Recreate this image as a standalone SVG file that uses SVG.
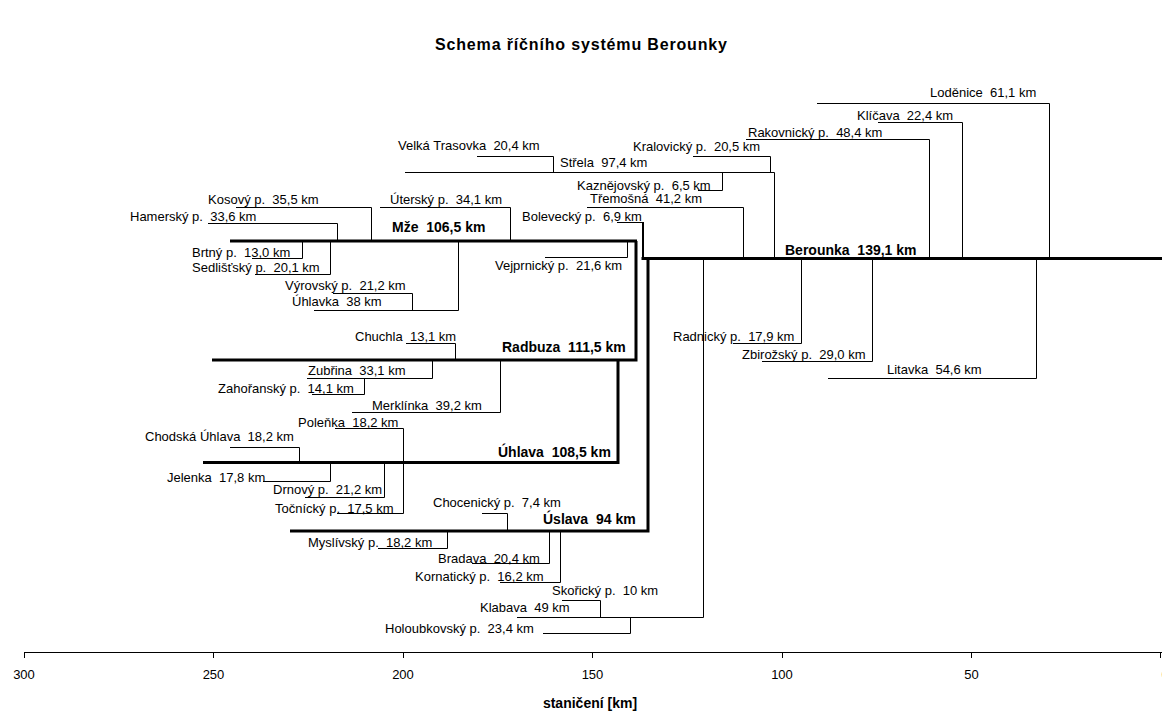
<svg xmlns="http://www.w3.org/2000/svg" width="1162" height="712" viewBox="0 0 1162 712" xml:space="preserve">
<style>
text{font-family:"Liberation Sans",Arial,sans-serif;font-size:13px;fill:#000;white-space:pre}
.b{font-weight:bold;font-size:14px}
.ttl{font-weight:bold;font-size:16px}
.ax{text-anchor:middle}
.thin{fill:none;stroke:#000;stroke-width:1}
.thick{fill:none;stroke:#000;stroke-width:3}
.mid{fill:none;stroke:#000;stroke-width:2}
</style>
<rect width="1162" height="712" fill="#fff"/>
<text class="ttl" x="581" y="50" text-anchor="middle" textLength="292" lengthAdjust="spacing">Schema říčního systému Berounky</text>

<g id="connectors">
  <!-- main rivers -->
  <polyline class="thick" points="230,241 637,241"/>
  <polyline class="thick" points="212,360 636,360 636,241"/>
  <polyline class="thick" points="203,462.5 618,462.5 618,360"/>
  <polyline class="thick" points="290,531 648,531 648,258.5"/>
  <polyline class="thick" points="641.5,258.5 1162,258.5"/>
  <!-- Berounka upper tributaries -->
  <polyline class="thin" points="817,103.5 1049.5,103.5 1049.5,258"/>
  <polyline class="thin" points="878,122.5 962.5,122.5 962.5,258"/>
  <polyline class="thin" points="746,139.5 929.5,139.5 929.5,258"/>
  <polyline class="thin" points="693,156.5 770.5,156.5 770.5,172.5"/>
  <polyline class="thin" points="477,156.5 553.5,156.5 553.5,172.5"/>
  <polyline class="thin" points="405,172.5 774.5,172.5 774.5,258"/>
  <polyline class="thin" points="698,190.5 722.5,190.5 722.5,172.5"/>
  <polyline class="thin" points="587,207.5 743.5,207.5 743.5,258"/>
  <polyline class="thin" points="617,222.5 643,222.5"/>
  <line class="mid" x1="643" y1="222" x2="643" y2="259"/>
  <!-- Mže tributaries -->
  <polyline class="thin" points="380,207.5 510.5,207.5 510.5,241"/>
  <polyline class="thin" points="236,207.5 371.5,207.5 371.5,241"/>
  <polyline class="thin" points="208,223.5 337.5,223.5 337.5,241"/>
  <polyline class="thin" points="252,258.5 302.5,258.5 302.5,241"/>
  <polyline class="thin" points="255,274.5 330.5,274.5 330.5,241"/>
  <polyline class="thin" points="333,293.5 412.5,293.5 412.5,310.5"/>
  <polyline class="thin" points="314,310.5 458.5,310.5 458.5,241"/>
  <polyline class="thin" points="545,257.5 627.5,257.5 627.5,241"/>
  <!-- Radbuza tributaries -->
  <polyline class="thin" points="406,343.5 455.5,343.5 455.5,360"/>
  <polyline class="thin" points="307,378.5 432.5,378.5 432.5,360"/>
  <polyline class="thin" points="312,394.5 364.5,394.5 364.5,378.5"/>
  <polyline class="thin" points="352,412.5 500.5,412.5 500.5,360"/>
  <!-- Úhlava tributaries -->
  <polyline class="thin" points="335,428.5 403.5,428.5 403.5,462"/>
  <polyline class="thin" points="230,447.5 299.5,447.5 299.5,462"/>
  <polyline class="thin" points="263,481.5 330.5,481.5 330.5,462"/>
  <polyline class="thin" points="305,497.5 384.5,497.5 384.5,462"/>
  <polyline class="thin" points="337,513.5 403.5,513.5 403.5,462"/>
  <!-- Úslava tributaries -->
  <polyline class="thin" points="482,513.5 507.5,513.5 507.5,531"/>
  <polyline class="thin" points="378,548.5 447.5,548.5 447.5,531"/>
  <polyline class="thin" points="472,563.5 549.5,563.5 549.5,531"/>
  <polyline class="thin" points="500,582.5 560.5,582.5 560.5,531"/>
  <!-- Klabava system -->
  <polyline class="thin" points="562,600.5 600.5,600.5 600.5,617.5"/>
  <polyline class="thin" points="517,617.5 703.5,617.5 703.5,259"/>
  <polyline class="thin" points="543,633.5 630.5,633.5 630.5,617.5"/>
  <!-- Berounka lower tributaries -->
  <polyline class="thin" points="733,343.5 801.5,343.5 801.5,259"/>
  <polyline class="thin" points="762,361.5 872.5,361.5 872.5,259"/>
  <polyline class="thin" points="828,378.5 1036.5,378.5 1036.5,259"/>
</g>

<g id="labels">
  <g id="berounka"><text class="b" x="785" y="255">Berounka  139,1 km</text></g>
  <g id="lodenice"><text x="930" y="97">Loděnice  61,1 km</text></g>
  <g id="klicava"><text x="857" y="120">Klíčava  22,4 km</text></g>
  <g id="rakovnicky"><text x="748" y="137">Rakovnický p.  48,4 km</text></g>
  <g id="kralovicky"><text x="633" y="151">Kralovický p.  20,5 km</text></g>
  <g id="velka-trasovka"><text x="398" y="150">Velká Trasovka  20,4 km</text></g>
  <g id="strela"><text x="560" y="167">Střela  97,4 km</text></g>
  <g id="kaznejovsky"><text x="577" y="190">Kaznějovský p.  6,5 km</text></g>
  <g id="tremosna"><text x="590" y="203">Třemošná  41,2 km</text></g>
  <g id="bolevecky"><text x="522" y="221">Bolevecký p.  6,9 km</text></g>
  <g id="mze"><text class="b" x="392" y="231.5">Mže  106,5 km</text></g>
  <g id="utersky"><text x="390" y="203.5">Úterský p.  34,1 km</text></g>
  <g id="kosovy"><text x="208" y="204">Kosový p.  35,5 km</text></g>
  <g id="hamersky"><text x="130" y="220.5">Hamerský p.  33,6 km</text></g>
  <g id="brtny"><text x="192" y="257">Brtný p.  13,0 km</text></g>
  <g id="sedlistsky"><text x="192" y="272">Sedlišťský p.  20,1 km</text></g>
  <g id="vyrovsky"><text x="285" y="290">Výrovský p.  21,2 km</text></g>
  <g id="uhlavka"><text x="292" y="306">Úhlavka  38 km</text></g>
  <g id="vejprnicky"><text x="495" y="270">Vejprnický p.  21,6 km</text></g>
  <g id="radbuza"><text class="b" x="502" y="352">Radbuza  111,5 km</text></g>
  <g id="chuchla"><text x="355" y="340.5">Chuchla  13,1 km</text></g>
  <g id="zubrina"><text x="308" y="375">Zubřina  33,1 km</text></g>
  <g id="zahoransky"><text x="218" y="392.5">Zahořanský p.  14,1 km</text></g>
  <g id="merklinka"><text x="372" y="410">Merklínka  39,2 km</text></g>
  <g id="uhlava"><text class="b" x="498" y="457">Úhlava  108,5 km</text></g>
  <g id="polenka"><text x="298" y="427">Poleňka  18,2 km</text></g>
  <g id="chodska-uhlava"><text x="145" y="441">Chodská Úhlava  18,2 km</text></g>
  <g id="jelenka"><text x="167" y="481.5">Jelenka  17,8 km</text></g>
  <g id="drnovy"><text x="273" y="494">Drnový p.  21,2 km</text></g>
  <g id="tocnicky"><text x="275" y="512.5">Točnícký p.  17,5 km</text></g>
  <g id="uslava"><text class="b" x="543" y="524">Úslava  94 km</text></g>
  <g id="chocenicky"><text x="433" y="506.5">Chocenický p.  7,4 km</text></g>
  <g id="myslivsky"><text x="308" y="546.5">Myslívský p.  18,2 km</text></g>
  <g id="bradava"><text x="438" y="563">Bradava  20,4 km</text></g>
  <g id="kornaticky"><text x="415" y="580.5">Kornatický p.  16,2 km</text></g>
  <g id="skoricky"><text x="552" y="595">Skořický p.  10 km</text></g>
  <g id="klabava"><text x="480" y="611.5">Klabava  49 km</text></g>
  <g id="holoubkovsky"><text x="385" y="633">Holoubkovský p.  23,4 km</text></g>
  <g id="radnicky"><text x="673" y="340.5">Radnický p.  17,9 km</text></g>
  <g id="zbirozsky"><text x="742" y="359">Zbirožský p.  29,0 km</text></g>
  <g id="litavka"><text x="887" y="374">Litavka  54,6 km</text></g>
</g>

<g id="axis">
  <line class="thin" x1="24" y1="652.5" x2="1162" y2="652.5"/>
  <path class="thin" d="M24.5,652V658M213.5,652V658M403.5,652V658M592.5,652V658M782.5,652V658M971.5,652V658M1160.5,652V658"/>
  <text class="ax" x="24" y="679">300</text>
  <text class="ax" x="213.5" y="679">250</text>
  <text class="ax" x="403" y="679">200</text>
  <text class="ax" x="592.5" y="679">150</text>
  <text class="ax" x="782" y="679">100</text>
  <text class="ax" x="971.5" y="679">50</text>
  <text class="ax" x="1165" y="679">0</text>
  <text class="b" x="590" y="708" text-anchor="middle">staničení [km]</text>
</g>
</svg>
